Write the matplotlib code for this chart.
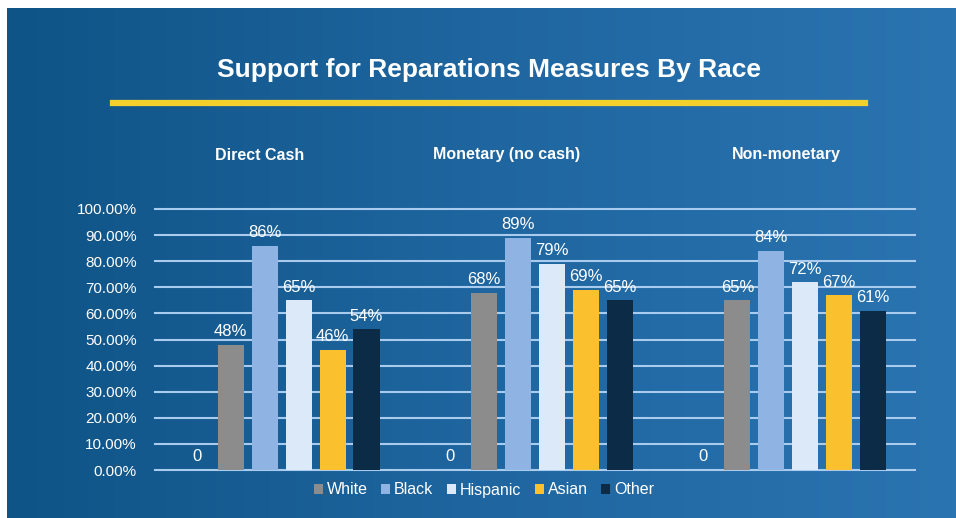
import numpy as np
import matplotlib
matplotlib.use("Agg")
import matplotlib.pyplot as plt
from matplotlib.colors import LinearSegmentedColormap

plt.rcParams['font.family'] = ['Liberation Sans', 'DejaVu Sans']

#--------------------- data ---------------------
categories = ["Direct Cash", "Monetary (no cash)", "Non-monetary"]
series_names = ["", "White", "Black", "Hispanic", "Asian", "Other"]
blank = [0, 0, 0]
white = [48, 68, 65]
black = [86, 89, 84]
hispanic = [65, 79, 72]
asian = [46, 69, 67]
other = [54, 65, 61]
yticks = [0, 10, 20, 30, 40, 50, 60, 70, 80, 90, 100]

values = [blank, white, black, hispanic, asian, other]
colors = ["#8c8c8c", "#8c8c8c", "#8fb4e3", "#dce9f8", "#fbc02d", "#0c2b47"]

#--------------------- figure & background ---------------------
fig = plt.figure(figsize=(9.56, 5.18), dpi=100)
fig.patch.set_facecolor("white")

bg = fig.add_axes([7/956, 0, 1 - 7/956, 1 - 8/518])
cmap = LinearSegmentedColormap.from_list("bg", ["#0f5486", "#1f66a0", "#2a74b1"])
grad = np.linspace(0, 1, 256).reshape(1, -1)
bg.imshow(grad, aspect="auto", cmap=cmap, extent=[0, 1, 0, 1])
bg.axis("off")

# title + yellow rule
fig.text(489/956, 1 - 70/518, "Support for Reparations Measures By Race",
         ha="center", va="center", color="white", fontsize=19, fontweight="bold")
fig.add_artist(plt.Line2D([113/956, 865/956], [1 - 103/518, 1 - 103/518],
                          color="#f3d02b", lw=4.5))

#--------------------- bars ---------------------
ax = fig.add_axes([155/956, 48/518, 760/956, 261/518])
ax.set_facecolor("none")

x = np.arange(len(categories))
step = 0.134
width = 0.103
for i, (name, vals) in enumerate(zip(series_names, values)):
    pos = x + (i - 2.5) * step
    bars = ax.bar(pos, vals, width, color=colors[i], zorder=3,
                  label=name if name else "_nolegend_")
    if name:
        labels = ["%d%%" % v for v in vals]
    else:
        labels = ["%d" % v for v in vals]
    ax.bar_label(bars, labels=labels, padding=4, color="white", fontsize=12)

ax.set_xlim(-0.5, 2.5)
ax.set_ylim(0, 100)
ax.set_yticks(yticks)
ax.set_yticklabels(["%.2f%%" % t for t in yticks], color="white", fontsize=11)
ax.tick_params(axis="y", length=0, pad=13)
ax.set_xticks([])
ax.yaxis.grid(True, color="#a8cbee", lw=1.5, zorder=0)
for s in ax.spines.values():
    s.set_visible(False)
for gl in ax.get_ygridlines():
    gl.set_clip_on(False)

# category headings above the plot
head_x = [260, 507, 786]
for cx, c in zip(head_x, categories):
    fig.text(cx/956, 1 - 155/518, c, ha="center", va="center",
             color="white", fontsize=11.5, fontweight="bold")

leg = fig.legend(loc="center", bbox_to_anchor=(484/956, 1 - 490/518), ncol=5,
                 frameon=False, handlelength=0.55, handleheight=0.55,
                 handletextpad=0.25, columnspacing=0.85, fontsize=11.5)
for t in leg.get_texts():
    t.set_color("white")

fig.savefig("out.png", dpi=100, facecolor=fig.get_facecolor())
